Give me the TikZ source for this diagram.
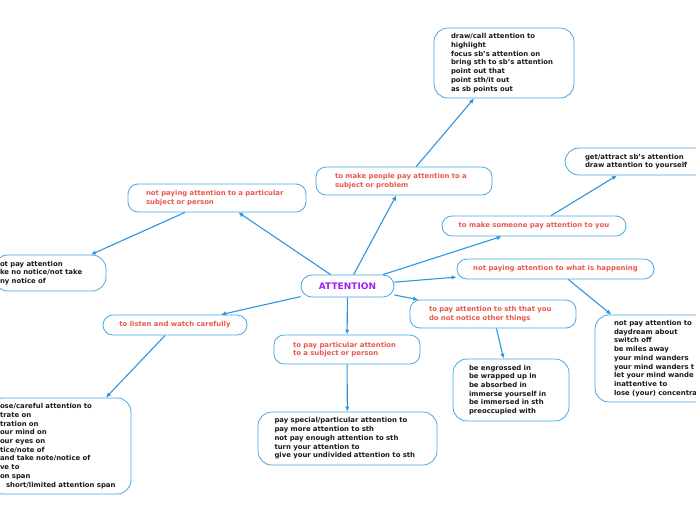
\documentclass[tikz,border=0pt]{standalone}
\usepackage{fontspec}
\setmainfont{DejaVu Sans}
\usepackage{xcolor}
\usepackage{tikz}
\usetikzlibrary{arrows.meta,positioning}
\definecolor{edge}{HTML}{2E96DC}
\definecolor{frame}{HTML}{47A6E6}
\definecolor{topic}{HTML}{E8574E}
\definecolor{centre}{HTML}{A020F0}
\definecolor{ink}{HTML}{1A1A1A}

\begin{document}
\begin{tikzpicture}[
          x=1pt, y=-1pt,
          every node/.style={font=\fontsize{6.9}{8.7}\selectfont\bfseries},
          topicbox/.style={draw=frame,line width=0.8pt,rounded corners=10pt,
                           text=topic,align=left,inner ysep=0pt},
          leafbox/.style={draw=frame,line width=0.8pt,rounded corners=14pt,
                          text=ink,align=left,inner ysep=0pt},
          link/.style={draw=edge,line width=1.1pt,-{Latex[length=5pt,width=4.5pt]}},
      ]
        \useasboundingbox (0,0) rectangle (696,520);

        \node[topicbox,text=centre,font=\fontsize{9}{11}\selectfont\bfseries,
              minimum width=93pt,minimum height=22pt,rounded corners=11pt] (attn) at (347.5,286) {ATTENTION};

        \node[topicbox,minimum width=178pt,minimum height=28pt,text width=142pt] (part) at (217,198)
            {not paying attention to a particular\\subject or person};
        \node[topicbox,minimum width=176pt,minimum height=28pt,text width=138pt] (people) at (404,181)
            {to make people pay attention to a\\subject or problem};
        \node[topicbox,minimum width=184pt,minimum height=20pt] (someone) at (534,226)
            {to make someone pay attention to you};
        \node[topicbox,minimum width=197pt,minimum height=20pt] (happen) at (555.5,269)
            {not paying attention to what is happening};
        \node[topicbox,minimum width=166pt,minimum height=28pt,text width=128pt] (notice) at (493,314)
            {to pay attention to sth that you\\do not notice other things};
        \node[topicbox,minimum width=146pt,minimum height=29pt,text width=108pt] (particular) at (347,349.5)
            {to pay particular attention\\to a subject or person};
        \node[topicbox,minimum width=144pt,minimum height=20pt] (listen) at (175,325)
            {to listen and watch carefully};

        \node[leafbox,minimum width=112pt,minimum height=36pt,text width=100pt] (ignore) at (50,273)
            {ot pay attention\\ke no notice/not take\\ny notice of};
        \node[leafbox,minimum width=140pt,minimum height=70pt,text width=106pt] (drawto) at (504,63)
            {draw/call attention to\\highlight\\focus sb's attention on\\bring sth to sb's attention\\point out that\\point sth/it out\\as sb points out};
        \node[leafbox,minimum width=150pt,minimum height=27pt,text width=110pt] (attract) at (640,161.5)
            {get/attract sb's attention\\draw attention to yourself};
        \node[leafbox,minimum width=140pt,minimum height=87pt,text width=102pt] (wander) at (665,358.5)
            {not pay attention to\\daydream about\\switch off\\be miles away\\your mind wanders\\your mind wanders t\\let your mind wande\\inattentive to\\lose (your) concentra};
        \node[leafbox,minimum width=116pt,minimum height=62pt,text width=84pt] (engross) at (511,390)
            {be engrossed in\\be wrapped up in\\be absorbed in\\immerse yourself in\\be immersed in sth\\preoccupied with};
        \node[leafbox,minimum width=179pt,minimum height=53pt,text width=146pt] (special) at (347.5,438.5)
            {pay special/particular attention to\\pay more attention to sth\\not pay enough attention to sth\\turn your attention to\\give your undivided attention to sth};
        \node[leafbox,minimum width=142pt,minimum height=96pt,text width=120pt] (careful) at (60,446)
            {ose/careful attention to\\trate on\\tration on\\our mind on\\our eyes on\\tice/note of\\and take note/notice of\\ve to\\on span\\\hspace*{6pt}short/limited attention span};

        \draw[link] (attn) -- (part);
        \draw[link] (attn) -- (people);
        \draw[link] (attn) -- (someone);
        \draw[link] (attn) -- (happen);
        \draw[link] (attn) -- (notice);
        \draw[link] (attn) -- (particular);
        \draw[link] (attn) -- (listen);
        \draw[link] (part) -- (ignore);
        \draw[link] (people) -- (drawto);
        \draw[link] (someone) -- (attract);
        \draw[link] (happen) -- (wander);
        \draw[link] (notice) -- (engross);
        \draw[link] (particular) -- (special);
        \draw[link] (listen) -- (careful);
      \end{tikzpicture}
\end{document}
